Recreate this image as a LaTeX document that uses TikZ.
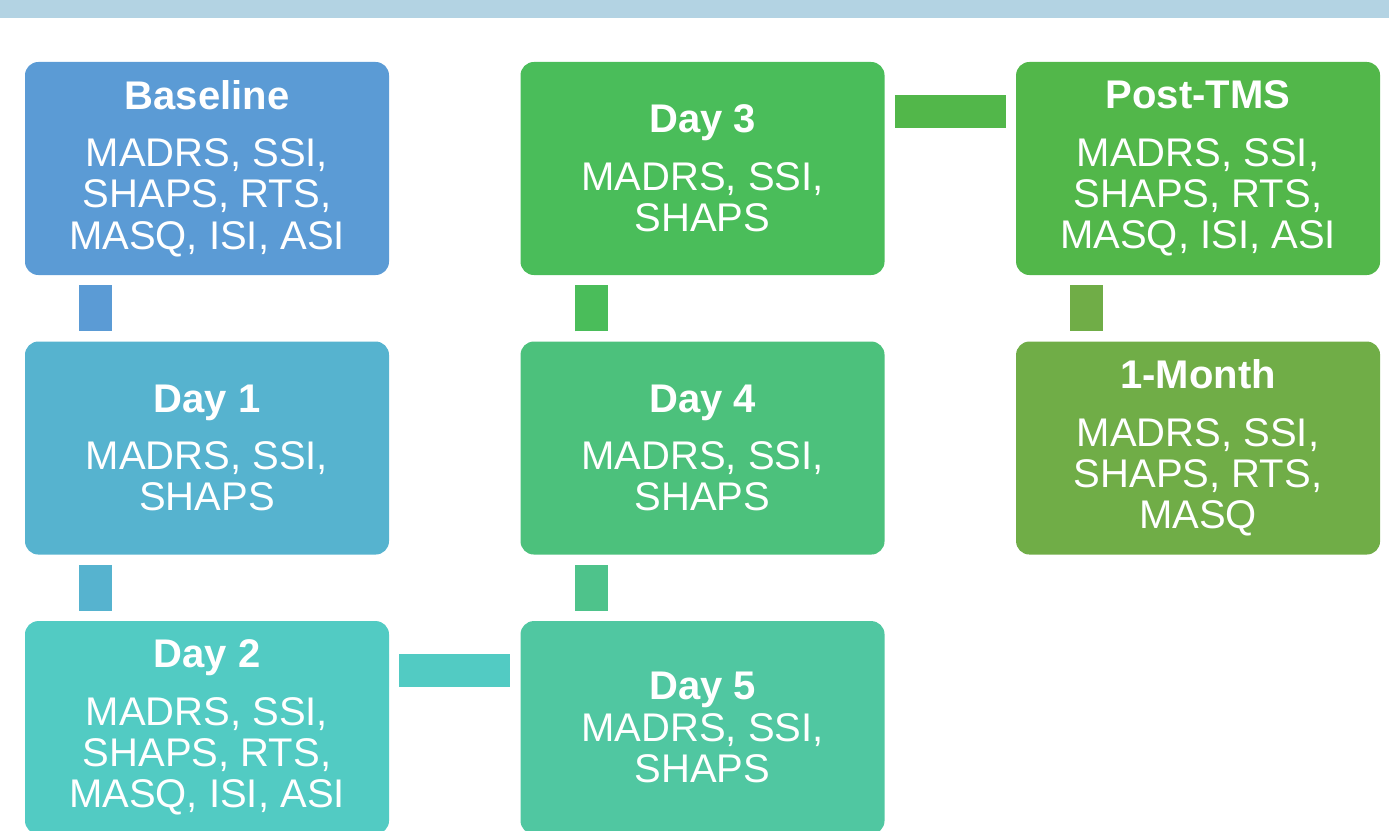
\documentclass[tikz,border=0pt]{standalone}
\usepackage{fontspec}
\setmainfont{Liberation Sans}
\usepackage{xcolor}
\usepackage{tikz}
\usetikzlibrary{positioning}
\definecolor{BandBlue}{RGB}{179,211,227}
\definecolor{BaseBlue}{RGB}{91,155,213}
\definecolor{DayOne}{RGB}{86,179,207}
\definecolor{DayTwo}{RGB}{82,203,195}
\definecolor{DayFive}{RGB}{80,199,161}
\definecolor{DayFour}{RGB}{76,193,124}
\definecolor{DayThree}{RGB}{74,189,90}
\definecolor{PostGreen}{RGB}{82,183,74}
\definecolor{MonthGreen}{RGB}{112,173,71}

\begin{document}
\begin{tikzpicture}[every node/.style={font=\fontsize{30}{31}\selectfont},
       stage/.style = {rectangle, rounded corners=10pt, fill=#1, text=white,
                       minimum width=273pt, minimum height=159.75pt,
                       align=center, inner sep=0pt},
       link/.style = {draw=#1, line width=24.75pt,
                      shorten >=7.5pt, shorten <=7.5pt}]
	\useasboundingbox (0,0) rectangle (1041.75pt,-623.25pt);
	%% Top band
	\fill[BandBlue] (0,0) rectangle (1041.75pt,-13.5pt);

	%% First column
	\node [stage=BaseBlue] (baseline) at (155.25pt,-126.375pt)
	      {\textbf{Baseline}\\[12pt]MADRS, SSI,\\SHAPS, RTS,\\MASQ, ISI, ASI};
	\node [stage=DayOne,below=49.5pt of baseline] (day1)
	      {\textbf{Day 1}\\[12pt]MADRS, SSI,\\SHAPS};
	\node [stage=DayTwo,below=49.5pt of day1] (day2)
	      {\textbf{Day 2}\\[12pt]MADRS, SSI,\\SHAPS, RTS,\\MASQ, ISI, ASI};

	%% Second column
	\node [stage=DayThree,right=98.25pt of baseline] (day3)
	      {\textbf{Day 3}\\[12pt]MADRS, SSI,\\SHAPS};
	\node [stage=DayFour,below=49.5pt of day3] (day4)
	      {\textbf{Day 4}\\[12pt]MADRS, SSI,\\SHAPS};
	\node [stage=DayFive,below=49.5pt of day4] (day5)
	      {\textbf{Day 5}\\MADRS, SSI,\\SHAPS};

	%% Third column
	\node [stage=PostGreen,right=98.25pt of day3] (posttms)
	      {\textbf{Post-TMS}\\[12pt]MADRS, SSI,\\SHAPS, RTS,\\MASQ, ISI, ASI};
	\node [stage=MonthGreen,below=49.5pt of posttms] (month)
	      {\textbf{1-Month}\\[12pt]MADRS, SSI,\\SHAPS, RTS,\\MASQ};

	%% Links
	\draw[link=BaseBlue] ([xshift=53.25pt]baseline.south west) -- ([xshift=53.25pt]day1.north west);
	\draw[link=DayOne] ([xshift=53.25pt]day1.south west) -- ([xshift=53.25pt]day2.north west);
	\draw[link=DayTwo] ([yshift=-37.125pt]day2.north east) -- ([yshift=-37.125pt]day5.north west);
	\draw[link=DayFour!60!DayFive] ([xshift=53.25pt]day5.north west) -- ([xshift=53.25pt]day4.south west);
	\draw[link=DayThree] ([xshift=53.25pt]day4.north west) -- ([xshift=53.25pt]day3.south west);
	\draw[link=PostGreen] ([yshift=-37.125pt]day3.north east) -- ([yshift=-37.125pt]posttms.north west);
	\draw[link=MonthGreen] ([xshift=53.25pt]posttms.south west) -- ([xshift=53.25pt]month.north west);
\end{tikzpicture}
\end{document}
